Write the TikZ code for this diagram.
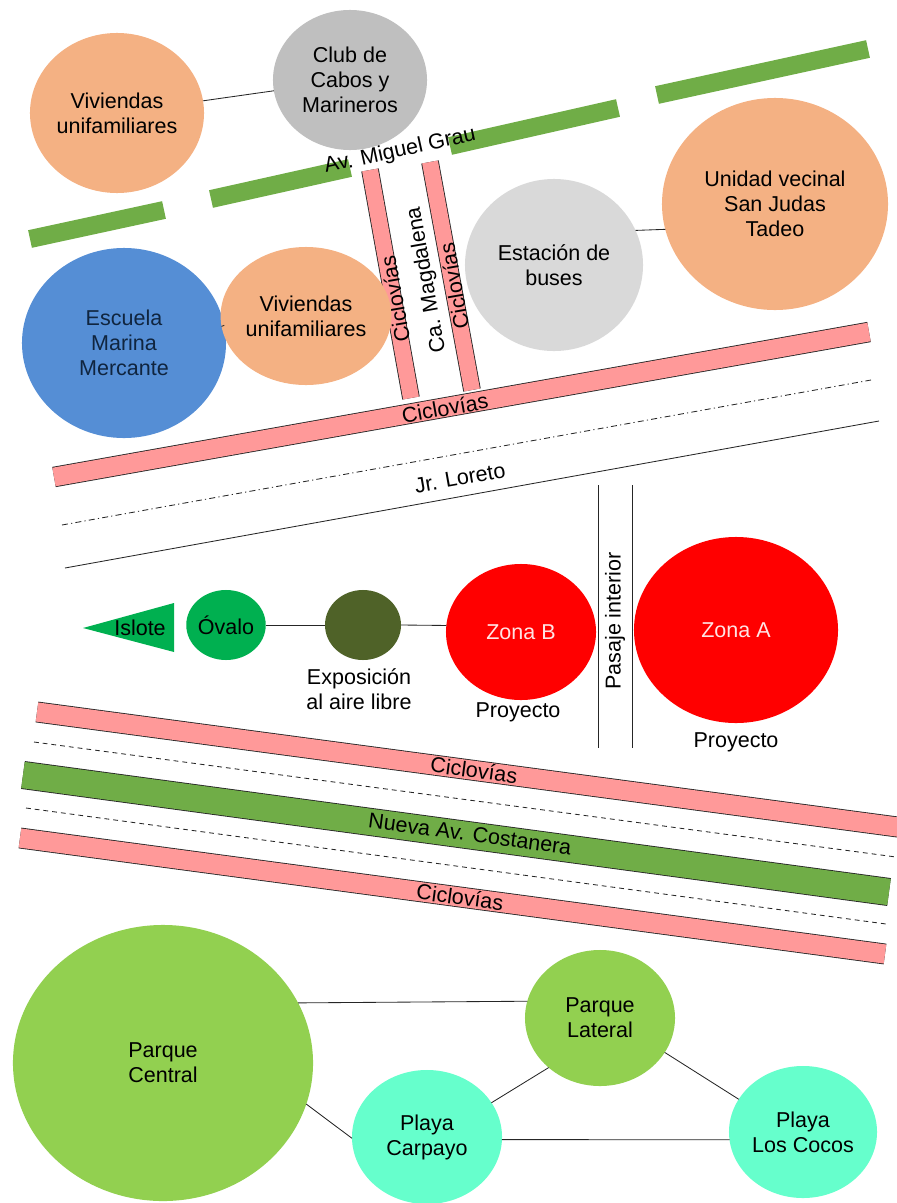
\documentclass[tikz,border=0pt]{standalone}
\usepackage{fontspec}
\setmainfont{Liberation Sans}
\usetikzlibrary{shapes.geometric}
\definecolor{casafill}{RGB}{244,177,131}
\definecolor{clubfill}{RGB}{191,191,191}
\definecolor{busfill}{RGB}{217,217,217}
\definecolor{marinafill}{RGB}{85,142,213}
\definecolor{marinatext}{RGB}{16,37,63}
\definecolor{grassgreen}{RGB}{112,173,71}
\definecolor{bikepink}{RGB}{255,153,153}
\definecolor{ovalgreen}{RGB}{0,176,80}
\definecolor{expofill}{RGB}{79,98,40}
\definecolor{zonafill}{RGB}{255,0,0}
\definecolor{zonatext}{RGB}{255,228,228}
\definecolor{parquefill}{RGB}{146,208,80}
\definecolor{playafill}{RGB}{102,255,204}
\newcommand{\mapfont}{\fontsize{15.3}{17.8}\selectfont}

\begin{document}
\begin{tikzpicture}[x=0.025cm, y=-0.025cm,
      spot/.style={ellipse, inner sep=0pt, outer sep=0pt, align=center,
                   font=\mapfont},
      link/.style={draw=black!85, line width=0.6pt},
      lbl/.style={font=\mapfont, inner sep=0pt, align=center},
      curb/.style={draw=black!85, line width=0.6pt},
      grauroad/.style={draw=grassgreen, line width=0.45cm},
      bikeroad/.style={curb, double=bikepink, double distance=#1},
      bikeroad/.default=0.48cm]
    \useasboundingbox (0,0) rectangle (896,1203);
    % ----- Av. Miguel Grau, broken where Ca. Magdalena crosses
    \draw[grauroad] (30,239) -- (164,210);
    \draw[grauroad] (211,199) -- (350,168);
    \draw[grauroad] (450,146) -- (618,108);
    \draw[grauroad] (657,95) -- (868,49);
    % ----- Ca. Magdalena with its two bike lanes
    \draw[bikeroad=0.4cm] (370,170) -- (411,398);
    \draw[bikeroad=0.4cm] (430,162) -- (472,390);
    % ----- bike lane and Jr. Loreto
    \draw[bikeroad=0.47cm] (54,477) -- (869,332);
    \draw[curb, dash pattern=on 0.15cm off 0.08cm on 0.03cm off 0.08cm]
      (62,525) -- (871,380);
    \draw[curb] (65,568) -- (879,421);
    % ----- pasaje interior
    \draw[curb] (598,485) -- (598,748);
    \draw[curb] (632,485) -- (632,748);
    % ----- Nueva Av. Costanera between two bike lanes
    \draw[bikeroad] (37,712) -- (905,828);
    \draw[curb, dash pattern=on 0.12cm off 0.1cm] (34,742) -- (896,857);
    \draw[curb, double=grassgreen, double distance=0.66cm] (23,775) -- (889,892);
    \draw[curb, dash pattern=on 0.12cm off 0.1cm] (26,808) -- (886,924);
    \draw[bikeroad] (20,838) -- (885,954);
    % ----- street names
    \node[lbl, rotate=12.4] (grau) at (400,151) {Av. Miguel Grau};
    \node[lbl, rotate=100] (cicA) at (395,299) {Ciclovías};
    \node[lbl, rotate=100] (magd) at (427,280) {Ca. Magdalena};
    \node[lbl, rotate=100] (cicB) at (454,286) {Ciclovías};
    \node[lbl, rotate=10.1] (cicC) at (445,408) {Ciclovías};
    \node[lbl, rotate=10.1] (loreto) at (460,478) {Jr. Loreto};
    \node[lbl, rotate=90] (pasaje) at (615,621) {Pasaje interior};
    \node[lbl, rotate=-7.6] (cicD) at (474,770) {Ciclovías};
    \node[lbl, rotate=-7.6] (costa) at (470,834) {Nueva Av. Costanera};
    \node[lbl, rotate=-7.6] (cicE) at (460,897) {Ciclovías};
    % ----- top neighbourhood
    \node[spot, fill=casafill, minimum width=4.35cm, minimum height=4cm]
      (viv1) at (117,113) {Viviendas\\unifamiliares};
    \node[spot, fill=clubfill, minimum width=3.85cm, minimum height=3.5cm]
      (club) at (350,80) {Club de\\Cabos y\\Marineros};
    \node[spot, fill=marinafill, text=marinatext, minimum width=5.1cm,
      minimum height=4.75cm] (marina) at (124,343) {Escuela\\Marina\\Mercante};
    \node[spot, fill=casafill, minimum width=3.7cm, minimum height=3.45cm]
      (viv2) at (306,316) {Viviendas\\unifamiliares};
    \node[spot, fill=busfill, minimum width=4.45cm, minimum height=4.3cm]
      (buses) at (554,265) {Estación de\\buses};
    \node[spot, fill=casafill, minimum width=5.65cm, minimum height=5.3cm]
      (judas) at (775,204) {Unidad vecinal\\San Judas\\Tadeo};
    \draw[link] (viv1) -- (club);
    \draw[link] (marina.10) -- (viv2.187);
    \draw[link] (buses.23) -- (judas.193);
    % ----- project row
    \fill[ovalgreen] (83,628) -- (174,603) -- (174,652) -- cycle;
    \node[lbl] (islote) at (140,628) {Islote};
    \node[spot, fill=ovalgreen, minimum width=1.9cm, minimum height=1.75cm]
      (ovalo) at (226,625) {Óvalo};
    \node[spot, fill=expofill, minimum width=1.9cm, minimum height=1.75cm]
      (expo) at (363,625) {};
    \node[lbl] (expolbl) at (359,689) {Exposición\\al aire libre};
    \node[spot, fill=zonafill, text=zonatext, minimum width=3.75cm,
      minimum height=3.4cm] (zonaB) at (521,632) {Zona B};
    \node[spot, fill=zonafill, text=zonatext, minimum width=5.1cm,
      minimum height=4.65cm] (zonaA) at (736,630) {Zona A};
    \node[lbl] (proyB) at (518,712) {Proyecto};
    \node[lbl] (proyA) at (736,742) {Proyecto};
    \draw[link] (ovalo) -- (expo);
    \draw[link] (expo.east) -- (zonaB.175);
    % ----- parks and beaches
    \node[spot, fill=parquefill, minimum width=7.5cm, minimum height=6.9cm]
      (central) at (163,1063) {Parque\\Central};
    \node[spot, fill=parquefill, minimum width=3.75cm, minimum height=3.4cm]
      (lateral) at (600,1018) {Parque\\Lateral};
    \node[spot, fill=playafill, minimum width=3.75cm, minimum height=3.35cm]
      (carpayo) at (427,1137) {Playa\\Carpayo};
    \node[spot, fill=playafill, minimum width=3.7cm, minimum height=3.3cm]
      (cocos) at (803,1132) {Playa\\Los Cocos};
    \draw[link] (central.24.5) -- (lateral.167.8);
    \draw[link] (central.-16.7) -- (carpayo.181);
    \draw[link] (lateral.224) -- (carpayo.28);
    \draw[link] (lateral.-28) -- (cocos.153);
    \draw[link] (carpayo.-2) -- (cocos.186);
\end{tikzpicture}
\end{document}
